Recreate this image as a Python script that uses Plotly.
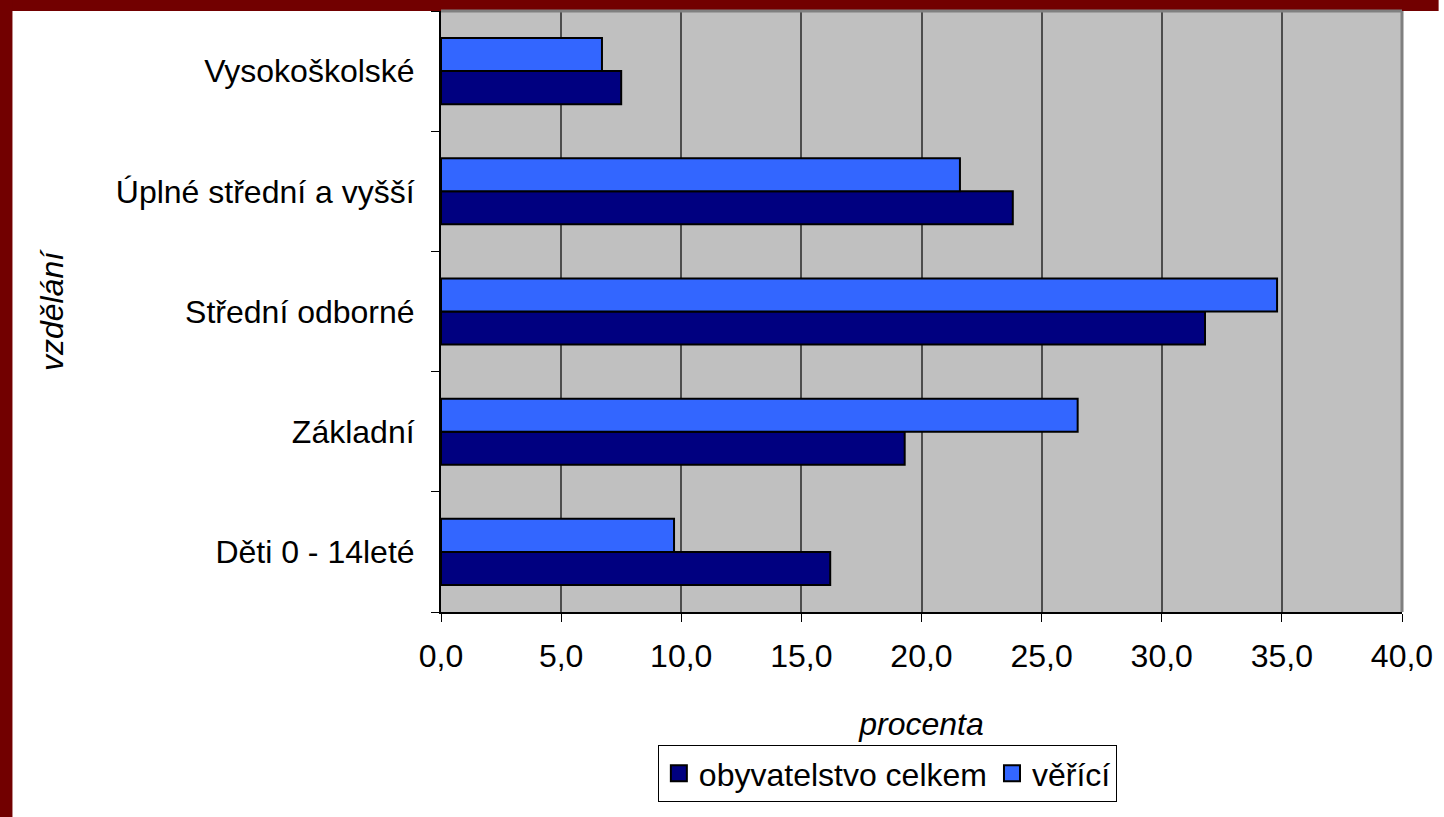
import plotly.graph_objects as go

categories = ["Děti 0 - 14leté", "Základní", "Střední odborné", "Úplné střední a vyšší", "Vysokoškolské"]
celkem = [16.2, 19.3, 31.8, 23.8, 7.5]
veri = [9.7, 26.5, 34.8, 21.6, 6.7]
x_ticks = [0, 5, 10, 15, 20, 25, 30, 35, 40]
x_tick_labels = ["0,0", "5,0", "10,0", "15,0", "20,0", "25,0", "30,0", "35,0", "40,0"]
series_names = ["obyvatelstvo celkem", "věřící"]
series_colors = ["#000080", "#3366FF"]

W, H = 1444, 817
L, R, T, B = 441, 32, 11, 205
pw, ph = W - L - R, H - T - B

def px(x):
    return (x - L) / pw

def py(y):
    return (H - B - y) / ph

font = "Liberation Sans, Arial, sans-serif"
FS = 32

fig = go.Figure()
for name, vals, col in zip(series_names, [celkem, veri], series_colors):
    fig.add_trace(go.Bar(y=categories, x=vals, orientation="h", name=name, showlegend=False,
                         hoverinfo="skip",
                         marker=dict(color=col, line=dict(color="black", width=2))))
# legend proxies with larger square symbols
for name, col in zip(series_names, series_colors):
    fig.add_trace(go.Scatter(x=[None], y=[None], mode="markers", name=name,
                             marker=dict(symbol="square", size=18, color=col,
                                         line=dict(color="black", width=2))))

shapes = [
    dict(type="rect", xref="paper", yref="paper", x0=px(-5), x1=px(W + 5), y0=py(-5), y1=py(11),
         fillcolor="#720000", line=dict(width=0), layer="above"),
    dict(type="rect", xref="paper", yref="paper", x0=px(-5), x1=px(8), y0=py(H + 5), y1=py(-5),
         fillcolor="#720000", line=dict(width=0), layer="above"),
    dict(type="line", xref="paper", yref="paper", x0=0, x1=1, y0=1, y1=1,
         line=dict(color="#808080", width=3), layer="above"),
    dict(type="line", xref="paper", yref="paper", x0=1, x1=1, y0=0, y1=1,
         line=dict(color="#808080", width=3), layer="above"),
]

fig.update_layout(
    width=W, height=H,
    margin=dict(l=L, r=R, t=T, b=B, pad=0),
    paper_bgcolor="white", plot_bgcolor="#C0C0C0",
    barmode="group", bargap=0.45, bargroupgap=0,
    font=dict(family=font, size=FS, color="black"),
    showlegend=True,
    legend=dict(orientation="h", x=px(892), xanchor="center", y=py(745), yanchor="top",
                bordercolor="black", borderwidth=1, bgcolor="white",
                font=dict(family=font, size=FS), traceorder="normal",
                itemwidth=30, tracegroupgap=0),
    shapes=shapes,
    xaxis=dict(range=[0, 40], tickvals=x_ticks, ticktext=x_tick_labels,
               showgrid=True, gridcolor="#4d4d4d", gridwidth=1.5,
               showline=True, linecolor="black", linewidth=2,
               ticks="outside", ticklen=8, tickcolor="black", tickwidth=1,
               zeroline=False, ticklabelstandoff=7,
               title=dict(text="<i>procenta</i>", font=dict(family=font, size=FS), standoff=39)),
    yaxis=dict(categoryorder="array", categoryarray=categories,
               showgrid=False, showline=True, linecolor="black", linewidth=2,
               ticks="outside", ticklen=8, tickcolor="black", tickwidth=1,
               tickson="boundaries", ticklabelstandoff=18,
               title=dict(text="<i>vzdělání</i>", font=dict(family=font, size=FS), standoff=43)),
)

fig.write_html("out.html", config={"displayModeBar": False},
               post_script="document.body.style.margin='0';document.body.style.overflow='hidden';")
